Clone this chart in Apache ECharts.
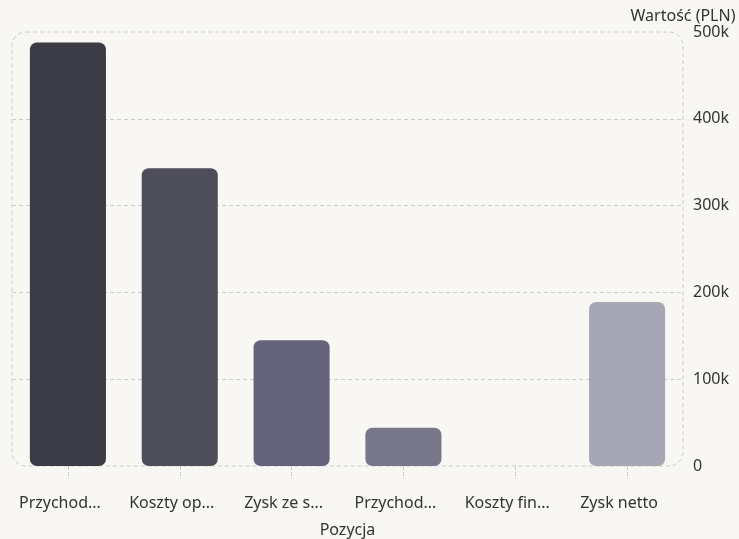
<!DOCTYPE html>
<html>
<head>
<meta charset="utf-8">
<script src="https://cdn.jsdelivr.net/npm/echarts@6/dist/echarts.min.js"></script>
<style>
  html, body { margin: 0; padding: 0; background: #f8f7f3; }
  #chart { width: 739px; height: 539px; }
</style>
</head>
<body>
<div id="chart"></div>
<script>
// categories and values (PLN)
const categories = ['Przychody ze sprzedaży', 'Koszty operacyjne', 'Zysk ze sprzedaży', 'Przychody finansowe', 'Koszty finansowe', 'Zysk netto'];
const values = [488000, 343000, 145000, 44000, 0, 189000];
const barColors = ['#3b3b45', '#4e4e5a', '#64637a', '#777789', '#8e8d9f', '#a7a6b4'];

const chart = echarts.init(document.getElementById('chart'));

const grid = { left: 12, right: 56, top: 32, bottom: 73, outerBoundsMode: 'none' };
const textColor = '#333';
const font = 'Noto Sans';
const fs = 16;

const options = {
  backgroundColor: '#f8f7f3',
  textStyle: { fontFamily: font },
  grid: grid,
  graphic: [
    {
      type: 'rect',
      z: 0,
      shape: { x: grid.left, y: grid.top, width: 739 - grid.left - grid.right, height: 539 - grid.top - grid.bottom, r: 14 },
      style: { fill: 'none', stroke: '#cccccc', lineWidth: 1, lineDash: [4, 3] },
      silent: true
    }
  ],
  xAxis: {
    type: 'category',
    data: categories,
    name: 'Pozycja',
    nameLocation: 'middle',
    nameGap: 56,
    nameTextStyle: { color: textColor, fontSize: fs, fontFamily: font },
    axisLine: { show: false },
    axisTick: { show: true, alignWithLabel: true, length: 13, lineStyle: { color: '#cccccc', type: 'dashed' } },
    axisLabel: {
      interval: 0,
      color: textColor, fontSize: fs, fontFamily: font, margin: 29,
      width: 88, overflow: 'truncate', ellipsis: '...',
      padding: [0, 16, 0, 0]
    }
  },
  yAxis: {
    type: 'value',
    position: 'right',
    min: 0,
    max: 500000,
    interval: 100000,
    name: 'Wartość (PLN)',
    nameGap: 5,
    nameTextStyle: { color: textColor, fontSize: fs, fontFamily: font, align: 'center' },
    axisLine: { show: false },
    axisTick: { show: false },
    axisLabel: {
      color: textColor, fontSize: fs, fontFamily: font, margin: 10,
      formatter: v => v === 0 ? '0' : (v / 1000) + 'k'
    },
    splitLine: {
      show: true,
      showMinLine: false,
      showMaxLine: false,
      lineStyle: { color: '#cccccc', type: [4, 3] }
    }
  },
  series: [
    {
      type: 'bar',
      barWidth: '68%',
      data: values.map((v, i) => ({ value: v, itemStyle: { color: barColors[i] } })),
      itemStyle: { borderRadius: 7 }
    }
  ]
};

chart.setOption(options);
</script>
</body>
</html>
